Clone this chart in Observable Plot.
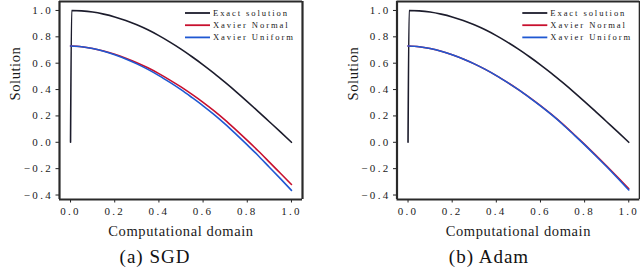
<!DOCTYPE html>
<html><head><meta charset="utf-8">
<script src="https://cdn.jsdelivr.net/npm/d3@7"></script>
<script src="https://cdn.jsdelivr.net/npm/@observablehq/plot@0.6"></script>
<style>
html,body{margin:0;padding:0;background:#fff;}
#wrap{position:relative;width:640px;height:275px;overflow:hidden;font-family:"Liberation Serif","DejaVu Serif",serif;}
.panel{position:absolute;top:0;}
.cap{position:absolute;top:246px;font-size:19px;letter-spacing:1px;color:#111;white-space:nowrap;transform:translateX(-50%);font-family:"Liberation Serif","DejaVu Serif",serif;}
svg text{fill:#1a1a1a;}
g[aria-label="x-axis tick label"] text, g[aria-label="y-axis tick label"] text{letter-spacing:2.3px;}
.lg text{letter-spacing:1.9px;font-size:8.6px;}
</style></head>
<body><div id="wrap"></div>
<script>
const xs = [0, 0.05, 0.1, 0.15, 0.2, 0.25, 0.3, 0.35, 0.4, 0.45, 0.5, 0.55, 0.6, 0.65, 0.7, 0.75, 0.8, 0.85, 0.9, 0.95, 1.0];
const exactX = [0, 0.005, 0.05, 0.1, 0.15, 0.2, 0.25, 0.3, 0.35, 0.4, 0.45, 0.5, 0.55, 0.6, 0.65, 0.7, 0.75, 0.8, 0.85, 0.9, 0.95, 1.0];
const exactY = [0, 1.0, 0.997, 0.988, 0.972, 0.951, 0.924, 0.891, 0.853, 0.809, 0.760, 0.707, 0.649, 0.588, 0.523, 0.454, 0.383, 0.309, 0.233, 0.156, 0.079, 0.0];
const sgdNormal  = [0.730, 0.725, 0.712, 0.693, 0.668, 0.638, 0.604, 0.565, 0.521, 0.472, 0.420, 0.363, 0.303, 0.238, 0.168, 0.092, 0.014, -0.066, -0.150, -0.235, -0.320];
const sgdUniform = [0.730, 0.725, 0.711, 0.691, 0.664, 0.632, 0.595, 0.553, 0.506, 0.454, 0.399, 0.339, 0.277, 0.210, 0.138, 0.060, -0.020, -0.102, -0.189, -0.276, -0.365];
const adamNormal  = [0.730, 0.725, 0.711, 0.691, 0.664, 0.632, 0.595, 0.553, 0.506, 0.455, 0.400, 0.341, 0.278, 0.211, 0.140, 0.063, -0.016, -0.097, -0.180, -0.265, -0.352];
const adamUniform = [0.730, 0.725, 0.711, 0.691, 0.664, 0.632, 0.595, 0.553, 0.506, 0.454, 0.399, 0.339, 0.276, 0.209, 0.137, 0.059, -0.020, -0.102, -0.186, -0.273, -0.362];
const seriesNames = ["Exact solution", "Xavier Normal", "Xavier Uniform"];
const colors = ["#1c1c2c", "#c8102e", "#1f58d2"];
const xTicks = [0, 0.2, 0.4, 0.6, 0.8, 1.0];
const yTicks = [-0.4, -0.2, 0, 0.2, 0.4, 0.6, 0.8, 1.0];
const xDomain = [-0.05, 1.05];
const yDomain = [-0.434, 1.068];
const captions = ["(a) SGD", "(b) Adam"];
const FONT = "'Liberation Serif', 'DejaVu Serif', serif";

function build(normal, uniform) {
  const rows = [];
  exactX.forEach((x, i) => rows.push({s: seriesNames[0], x, y: exactY[i]}));
  xs.forEach((x, i) => rows.push({s: seriesNames[1], x, y: normal[i]}));
  xs.forEach((x, i) => rows.push({s: seriesNames[2], x, y: uniform[i]}));
  return rows;
}

const fmt = d3.format(".1f");
function panel(rows, left, mL, mR, caption, capX) {
  const p = Plot.plot({
    width: 320, height: 242,
    marginLeft: mL, marginRight: mR, marginTop: 1, marginBottom: 43,
    style: {fontFamily: FONT, color: "#222"},
    x: {domain: xDomain},
    y: {domain: yDomain},
    color: {domain: seriesNames, range: colors},
    marks: [
      Plot.axisX({ticks: xTicks, tickFormat: fmt, tickSize: 3.5, tickPadding: 4, fontSize: 11, label: null}),
      Plot.axisY({ticks: yTicks, tickFormat: fmt, tickSize: 3.5, tickPadding: 3, fontSize: 11, label: null}),
      Plot.ruleX(xDomain, {stroke: "#2a2a2a", strokeWidth: 2.2}),
      Plot.ruleY(yDomain, {stroke: "#2a2a2a", strokeWidth: 2.2}),
      Plot.line(rows, {x: "x", y: "y", z: "s", stroke: "s", strokeWidth: 1.6, curve: "monotone-x"}),
      Plot.text(["Computational domain"], {frameAnchor: "bottom", dy: 36, fontSize: 14.5, text: d => d}),
      Plot.text(["Solution"], {frameAnchor: "left", dx: -44, rotate: -90, fontSize: 14.5, text: d => d})
    ]
  });
  p.querySelectorAll('g[aria-label="text"] text').forEach(t => t.style.letterSpacing = "0.6px");
  const div = document.createElement("div");
  div.className = "panel";
  div.style.left = left + "px";
  div.appendChild(p);
  document.getElementById("wrap").appendChild(div);
  const svg = d3.select(p);
  const xr = p.scale("x").range;
  const x1 = Math.max(...xr);
  const lgX = x1 - 117;
  const g = svg.append("g").attr("class", "lg").attr("text-anchor", "start").attr("font-family", FONT);
  seriesNames.forEach((n, i) => {
    const yy = 13 + i * 12.2;
    g.append("line").attr("x1", lgX).attr("x2", lgX + 25).attr("y1", yy).attr("y2", yy)
      .attr("stroke", colors[i]).attr("stroke-width", 1.8);
    g.append("text").attr("x", lgX + 28).attr("y", yy).attr("dy", "0.32em").attr("text-anchor", "start").text(n);
  });
  const c = document.createElement("div");
  c.className = "cap";
  c.style.left = capX + "px";
  c.textContent = caption;
  document.getElementById("wrap").appendChild(c);
}

panel(build(sgdNormal, sgdUniform), 0, 59, 18, captions[0], 155);
panel(build(adamNormal, adamUniform), 320, 76.5, 0.7, captions[1], 489);
</script></body></html>
